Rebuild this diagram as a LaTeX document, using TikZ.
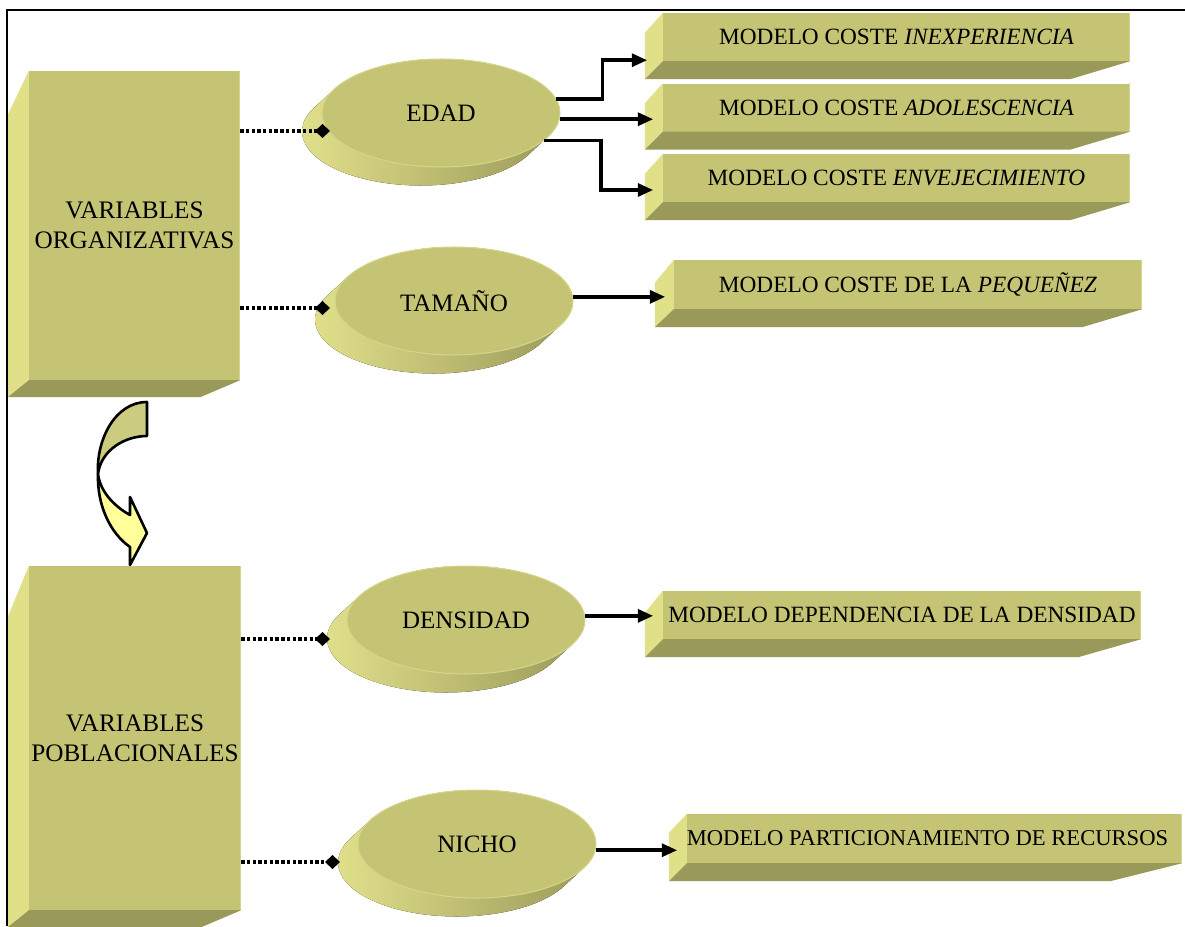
\documentclass[tikz,border=0pt]{standalone}
\usepackage{fontspec}
\setmainfont{Liberation Serif}
\usetikzlibrary{shapes.geometric,arrows.meta,calc}

\definecolor{face}{RGB}{196,196,116}
\definecolor{bevlight}{RGB}{224,224,136}
\definecolor{bevdark}{RGB}{153,153,89}
\definecolor{rim}{RGB}{214,214,138}
\definecolor{shadelight}{RGB}{228,228,142}
\definecolor{shadedark}{RGB}{150,148,86}
\definecolor{bandback}{RGB}{204,204,128}
\definecolor{bandfront}{RGB}{255,255,153}

\tikzset{
  facebox/.style={rectangle, fill=face, inner sep=0pt, text=black,
    font=\fontsize{23.3}{30}\selectfont, align=center},
  bigfont/.style={font=\fontsize{25.2}{30}\selectfont},
  disc/.style={ellipse, fill=face, draw=rim, line width=1pt,
    minimum width=238pt, minimum height=108pt, inner sep=0pt,
    font=\fontsize{25}{30}\selectfont},
  discshade/.style={left color=shadelight, right color=shadedark},
  dotlink/.style={line width=3.6pt, dash pattern=on 3.4pt off 2.3pt,
    -{Diamond[length=15pt,width=14pt,line width=0pt]}},
  arrowlink/.style={line width=3.6pt,
    -{Triangle[length=15pt,width=14pt,line width=0pt]}},
  band/.style={draw=black, line width=2.6pt, line join=round},
}

% bevels of a bar: node, left width, top slant, depth, right slant
\newcommand\barbevels[5]{%
  \fill[bevlight] (#1.north west) -- ++(-#2,-#3) -- ($(#1.south west)+(-#2,-#4)$) -- (#1.south west) -- cycle;
  \fill[bevdark] (#1.south west) -- (#1.south east) -- ++(-#5,-#4) -- ($(#1.south west)+(-#2,-#4)$) -- cycle;
  \draw[rim, line width=1.5pt] ([xshift=-0.75pt]#1.north east) -- ([xshift=-0.75pt]#1.south east);
}

% extruded underside of a disc centred at (#1,#2)
\newcommand\discbase[2]{%
  \fill[discshade] ($(#1,#2)+(-26.1:119 and 54)$)
    arc[start angle=-26.1, end angle=153.9, x radius=119, y radius=54]
    -- ++(-20,-18.5)
    arc[start angle=153.9, end angle=333.9, x radius=119, y radius=54]
    -- cycle;
}

\begin{document}
\begin{tikzpicture}[x=1pt, y=1pt]
\useasboundingbox (0,0) rectangle (1185,-926);

% variable blocks
\node[facebox, bigfont, minimum width=211pt, minimum height=309pt] (orgbox) at (134.5,-225.5) {VARIABLES\\ORGANIZATIVAS};
\barbevels{orgbox}{21}{44}{17}{40}
\node[facebox, bigfont, minimum width=212pt, minimum height=344pt] (pobbox) at (135,-738) {VARIABLES\\POBLACIONALES};
\barbevels{pobbox}{21}{51}{17}{40}

% model bars
\node[facebox, minimum width=467pt, minimum height=48pt] (m1) at (896.5,-37) {MODELO COSTE \textit{INEXPERIENCIA}};
\barbevels{m1}{18}{20}{18}{60}
\node[facebox, minimum width=467pt, minimum height=48pt] (m2) at (896.5,-107.5) {MODELO COSTE \textit{ADOLESCENCIA}};
\barbevels{m2}{18}{20}{18}{60}
\node[facebox, minimum width=467pt, minimum height=48pt] (m3) at (896.5,-178) {MODELO COSTE \textit{ENVEJECIMIENTO}};
\barbevels{m3}{18}{20}{18}{60}
\node[facebox, minimum width=468pt, minimum height=49pt] (m4) at (908,-284.5) {MODELO COSTE DE LA \textit{PEQUEÑEZ}};
\barbevels{m4}{19}{23}{18}{60}
\node[facebox, minimum width=478pt, minimum height=48pt] (m5) at (902,-615) {MODELO DEPENDENCIA DE LA DENSIDAD};
\barbevels{m5}{18}{22}{18}{63}
\node[facebox, minimum width=495pt, minimum height=49pt, font=\fontsize{22.6}{28}\selectfont] (m6) at (934.5,-838.5) {\hspace*{-14pt}MODELO PARTICIONAMIENTO DE RECURSOS};
\barbevels{m6}{18}{19}{18}{72}

% discs
\discbase{441}{-113}
\node[disc] (edad) at (441,-113) {EDAD};
\discbase{454}{-301}
\node[disc] (tamano) at (454,-301) {TAMAÑO};
\discbase{466}{-620}
\node[disc] (densidad) at (466,-620) {DENSIDAD};
\discbase{477}{-844}
\node[disc] (nicho) at (477,-844) {NICHO};

% entry points of the dotted links
\coordinate (edad-in) at (330,-131);
\coordinate (tam-in) at (330,-308);
\coordinate (den-in) at (330,-639);
\coordinate (nic-in) at (340,-862);

\draw[dotlink] (orgbox.east |- edad-in) -- (edad-in);
\draw[dotlink] (orgbox.east |- tam-in) -- (tam-in);
\draw[dotlink] (pobbox.east |- den-in) -- (den-in);
\draw[dotlink] (pobbox.east |- nic-in) -- (nic-in);

% links to the models
\draw[arrowlink] (edad.7) -- ++(46,0) |- ($(m1.south west)+(-16,1)$);
\draw[arrowlink, shorten >=10pt] (edad.-3) -- (edad.-3 -| m2.west);
\draw[arrowlink] (edad.-15) -- ++(57,0) |- ($(m3.west)+(-10,-12)$);
\draw[arrowlink, shorten >=9pt] (tamano.2) -- (tamano.2 -| m4.west);
\draw[arrowlink, shorten >=10pt] (densidad.2) -- (densidad.2 -| m5.west);
\draw[arrowlink, shorten >=10pt] (nicho.-3) -- (nicho.-3 -| m6.west);

% curved arrow from the organisational to the population block
\filldraw[band, fill=bandback] (147,-402) -- (147,-436)
  .. controls (125,-436) and (101,-450) .. (98,-474)
  .. controls (96,-440) and (115,-402) .. (147,-402) -- cycle;
\filldraw[band, fill=bandfront] (98,-474)
  .. controls (97,-505) and (110,-533) .. (130,-547)
  -- (130,-565) -- (147,-533) -- (130,-497) -- (130,-515)
  .. controls (112,-505) and (100,-490) .. (98,-474) -- cycle;

% frame
\draw[line width=2pt] (1185,-10) -- (7,-10) -- (7,-926);
\end{tikzpicture}
\end{document}
